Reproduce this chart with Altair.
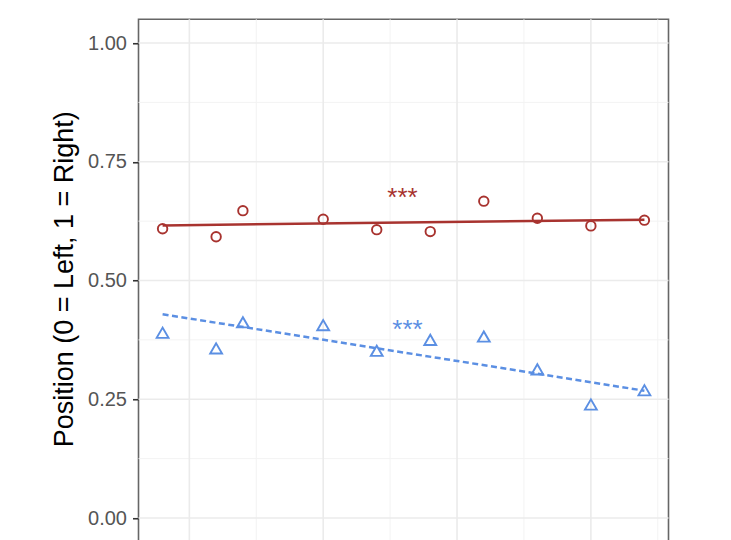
import altair as alt
import pandas as pd

# ---- data ----
years = [2004, 2006, 2007, 2010, 2012, 2014, 2016, 2018, 2020, 2022]
right_vals = [0.609, 0.592, 0.647, 0.629, 0.607, 0.603, 0.667, 0.631, 0.615, 0.627]
left_vals = [0.390, 0.357, 0.412, 0.406, 0.352, 0.375, 0.382, 0.313, 0.239, 0.269]

fit_years = [2004, 2022]
right_fit = [0.616, 0.628]
left_fit = [0.429, 0.268]

star_labels = ["***", "***"]
star_x = [2012.96, 2013.15]
star_y = [0.656, 0.380]

y_ticks = [0.0, 0.25, 0.50, 0.75, 1.00]
y_minor = [0.125, 0.375, 0.625, 0.875]
x_major = [2005, 2010, 2015, 2020]
x_minor = [2007.5, 2012.5, 2017.5, 2022.5]

RED = "#A8332F"
BLUE = "#5B8FE3"
FONT = "Liberation Sans"

x_scale = alt.Scale(domain=[2003.1, 2022.9], nice=False, zero=False)
y_scale = alt.Scale(domain=[-0.05, 1.05], nice=False, zero=False)

y_axis = alt.Axis(
    values=y_ticks, format=".2f",
    title="Position (0 = Left, 1 = Right)",
    titleFont=FONT, titleFontSize=27, titleFontWeight="normal", titleColor="#000000",
    titleAngle=270, titleAlign="center", titleBaseline="alphabetic",
    titleX=-66, titleY=259.5,
    labelFont=FONT, labelFontSize=20, labelColor="#555555", labelPadding=6,
    tickSize=6, tickColor="#333333", tickWidth=1.6,
    domain=False, grid=False,
)


def Y(field):
    return alt.Y(field, type="quantitative", scale=y_scale, axis=y_axis)


def X(field):
    return alt.X(field, type="quantitative", scale=x_scale, axis=None)


grid_y_major = alt.Chart(pd.DataFrame({"v": y_ticks})).mark_rule(
    color="#EBEBEB", strokeWidth=1.6).encode(y=Y("v"))
grid_y_minor = alt.Chart(pd.DataFrame({"v": y_minor})).mark_rule(
    color="#F3F3F3", strokeWidth=1.0).encode(y=Y("v"))
grid_x_major = alt.Chart(pd.DataFrame({"v": x_major})).mark_rule(
    color="#EBEBEB", strokeWidth=1.6).encode(x=X("v"))
grid_x_minor = alt.Chart(pd.DataFrame({"v": x_minor})).mark_rule(
    color="#F3F3F3", strokeWidth=1.0).encode(x=X("v"))

pts = pd.DataFrame({"year": years, "right": right_vals, "left": left_vals})
fits = pd.DataFrame({"year": fit_years, "right": right_fit, "left": left_fit})
stars = pd.DataFrame({"x": star_x, "y": star_y, "label": star_labels, "c": [RED, BLUE]})

right_line = alt.Chart(fits).mark_line(color=RED, strokeWidth=2.5).encode(
    x=X("year"), y=Y("right"))
left_line = alt.Chart(fits).mark_line(color=BLUE, strokeWidth=2.5, strokeDash=[6, 3.5]).encode(
    x=X("year"), y=Y("left"))

right_pts = alt.Chart(pts).mark_point(
    shape="circle", size=90, filled=False, color=RED, strokeWidth=1.9, opacity=1).encode(
    x=X("year"), y=Y("right"))
left_pts = alt.Chart(pts).mark_point(
    shape="triangle-up", size=140, filled=False, color=BLUE, strokeWidth=1.9, opacity=1).encode(
    x=X("year"), y=Y("left"))

star_text = alt.Chart(stars).mark_text(
    font=FONT, fontSize=26, align="center", baseline="alphabetic",
    stroke=None).encode(
    x=X("x"), y=Y("y"), text="label:N",
    color=alt.Color("c:N", scale=None))

chart = alt.layer(
    grid_y_minor, grid_x_minor, grid_y_major, grid_x_major,
    right_line, left_line, right_pts, left_pts, star_text,
).properties(
    width=530, height=522.5,
    autosize=alt.AutoSizeParams(type="none"),
    padding={"left": 130.5, "top": 11.25, "right": 40, "bottom": 0},
    background="white",
).configure_view(stroke="#666666", strokeWidth=1.6)

chart.save("out.html", embed_options={"renderer": "svg", "actions": False})
